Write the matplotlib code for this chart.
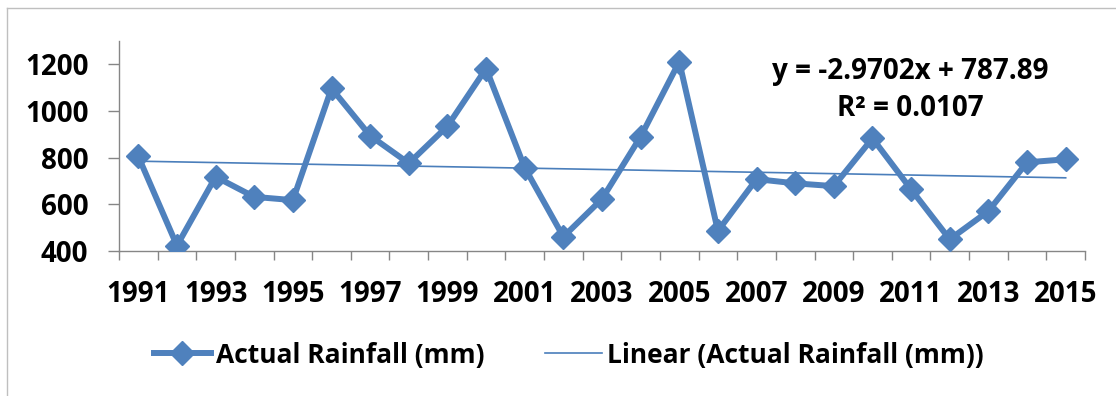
import numpy as np
import matplotlib
matplotlib.use("Agg")
import matplotlib.pyplot as plt
from matplotlib.lines import Line2D

plt.rcParams['font.family'] = ['Open Sans', 'DejaVu Sans']
plt.rcParams['font.weight'] = 'bold'

years = list(range(1991, 2016))
rainfall = [805, 423, 718, 632, 618, 1097, 894, 776, 935, 1182,
            757, 461, 623, 890, 1211, 486, 708, 690, 678, 883,
            664, 450, 571, 780, 793]
slope = -2.9702
intercept = 787.89
r_squared = 0.0107
y_ticks = [400, 600, 800, 1000, 1200]

blue = '#4F81BD'
grey = '#868686'

fig = plt.figure(figsize=(11.16, 3.96), dpi=100)
ax = fig.add_axes([119 / 1116, 1 - 251 / 396, 966 / 1116, 210 / 396])

x = np.arange(len(years))
ax.plot(x, rainfall, color=blue, lw=4.3, marker='D', ms=12.5,
        mfc=blue, mec=blue, label='Actual Rainfall (mm)', zorder=3)

# trend line from the fitted equation (x counts 1..n)
trend = [slope * (i + 1) + intercept for i in x]
ax.plot(x, trend, color='#4A7EBB', lw=1.2, label='Linear (Actual Rainfall (mm))', zorder=2)

ax.set_xlim(-0.5, len(years) - 0.5)
ax.set_ylim(400, 1300)

# category axis: tick marks between categories, labels on every other year
ax.set_xticks(np.arange(-0.5, len(years)), labels=[])
ax.set_xticks(x[::2], labels=[str(y) for y in years[::2]], minor=True)
ax.tick_params(axis='x', which='major', length=6.5, width=1, color=grey, direction='out')
ax.tick_params(axis='x', which='minor', length=0, pad=21, labelsize=20)
ax.set_yticks(y_ticks)
ax.tick_params(axis='y', length=8, width=1, color=grey, pad=14, labelsize=20)

for side in ['top', 'right']:
    ax.spines[side].set_visible(False)
for side in ['left', 'bottom']:
    ax.spines[side].set_color(grey)
    ax.spines[side].set_linewidth(1)

fig.text(910 / 1116, 1 - 72 / 396, f'y = {slope}x + {intercept}', ha='center', va='center',
         fontsize=20, fontweight='bold')
fig.text(910 / 1116, 1 - 108 / 396, f'R² = {r_squared}', ha='center', va='center',
         fontsize=20, fontweight='bold')

fig.legend(loc='center', bbox_to_anchor=(569 / 1116, 1 - 355 / 396), ncol=2, frameon=False,
           fontsize=19, handlelength=2.15, handletextpad=0.2, columnspacing=2.3, numpoints=1)

# chart border
fig.add_artist(Line2D([7 / 1116, 7 / 1116], [0, 1 - 8 / 396], color='#BFBFBF', lw=1))
fig.add_artist(Line2D([7 / 1116, 1], [1 - 8 / 396, 1 - 8 / 396], color='#BFBFBF', lw=1))

fig.savefig('out.png', dpi=100)
